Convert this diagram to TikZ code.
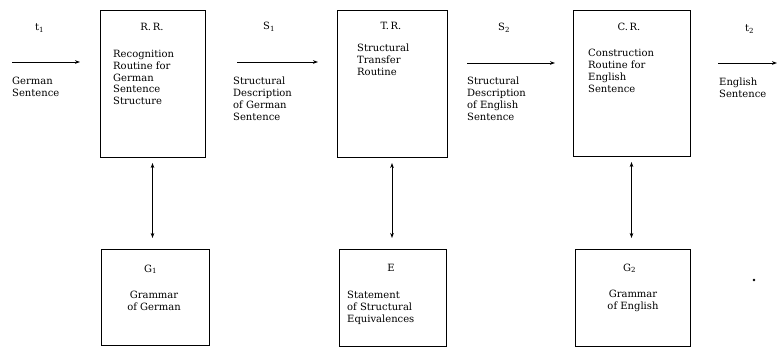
\documentclass[tikz,border=0pt]{standalone}
\usepackage{fontspec}
\setmainfont{DejaVu Serif}
\usetikzlibrary{arrows.meta}
\begin{document}
\begin{tikzpicture}[x=1pt,y=-1pt,
  box/.style={draw, line width=0.9pt, inner sep=0pt, outer sep=0pt, anchor=north west},
  ttl/.style={inner sep=0pt, font=\fontsize{10}{11}\selectfont},
  txt/.style={inner sep=0pt, align=left, anchor=north west, font=\fontsize{10}{11.8}\selectfont},
  ctxt/.style={inner sep=0pt, align=center, anchor=north, font=\fontsize{10}{11.8}\selectfont},
  tip/.tip={Stealth[length=5pt,width=3.6pt]},
  arr/.style={-tip, line width=0.8pt},
  darr/.style={tip-tip, line width=0.8pt, shorten <=6pt, shorten >=11pt}]
\useasboundingbox (0,0) rectangle (780,353);

% boxes
\node[box, minimum width=105pt, minimum height=147pt] (rr) at (100,10) {};
\node[box, minimum width=110pt, minimum height=147pt] (tr) at (337,10) {};
\node[box, minimum width=117pt, minimum height=146pt] (cr) at (573,10) {};
\node[box, minimum width=108pt, minimum height=96pt] (g1) at (101,249) {};
\node[box, minimum width=107pt, minimum height=97pt] (eq) at (339,249) {};
\node[box, minimum width=115pt, minimum height=97pt] (g2) at (575,249) {};

% titles
\node[ttl] (rrt) at (152,27) {R.\,R.};
\node[ttl] (trt) at (391,26) {T.\,R.};
\node[ttl] (crt) at (629,27) {C.\,R.};
\node[ttl, anchor=base west] (g1t) at (144,272) {G\textsubscript{1}};
\node[ttl] (eqt) at (391,268) {E};
\node[ttl, anchor=base west] (g2t) at (623,271) {G\textsubscript{2}};

% box texts
\node[txt] (rrx) at (113,50) {Recognition\\Routine for\\German\\Sentence\\Structure};
\node[txt] (trx) at (357,44) {Structural\\Transfer\\Routine};
\node[txt] (crx) at (588,49) {Construction\\Routine for\\English\\Sentence};
\node[ctxt] (g1x) at (154,291) {Grammar\\of German};
\node[txt] (eqx) at (347,291) {Statement\\of Structural\\Equivalences};
\node[ctxt] (g2x) at (633,290) {Grammar\\of English};

% signal labels
\node[ttl, anchor=base west] (t1) at (35,31) {t\textsubscript{1}};
\node[ttl, anchor=base west] (s1) at (263,30) {S\textsubscript{1}};
\node[ttl, anchor=base west] (s2) at (498,31) {S\textsubscript{2}};
\node[ttl, anchor=base west] (t2) at (745,32) {t\textsubscript{2}};

% outside texts
\node[txt] (t1x) at (12,77) {German\\Sentence};
\node[txt] (s1x) at (233,77) {Structural\\Description\\of German\\Sentence};
\node[txt] (s2x) at (467,77) {Structural\\Description\\of English\\Sentence};
\node[txt] (t2x) at (719,78) {English\\Sentence};

% horizontal arrows
\coordinate (a1) at (12,62);  \coordinate (b1) at (80,62);
\coordinate (a2) at (237,62); \coordinate (b2) at (318,62);
\coordinate (a3) at (467,63); \coordinate (b3) at (555,63);
\coordinate (a4) at (718,63); \coordinate (b4) at (777,63);
\draw[arr] (a1) -- (b1);
\draw[arr] (a2) -- (b2);
\draw[arr] (a3) -- (b3);
\draw[arr] (a4) -- (b4);

% vertical arrows
\draw[darr] (rr.south) -- (rr.south |- g1.north);
\draw[darr] (tr.south) -- (tr.south |- eq.north);
\draw[darr] (cr.south) -- (cr.south |- g2.north);

% stray dot
\node[circle, fill, inner sep=0.9pt] (dot) at (754,280) {};
\end{tikzpicture}
\end{document}
